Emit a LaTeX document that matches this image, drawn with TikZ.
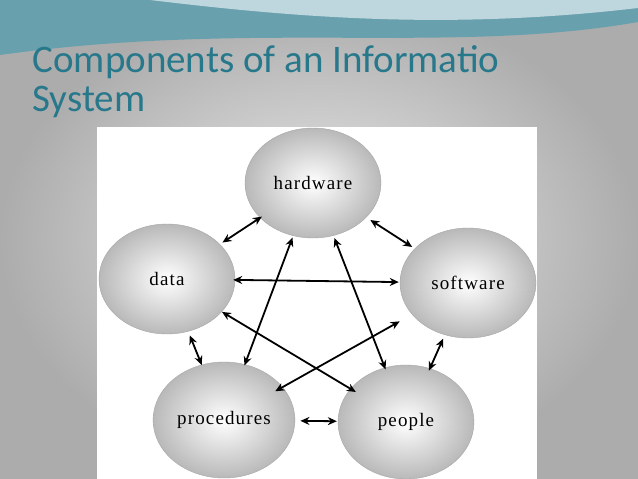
\documentclass[tikz,border=0pt]{standalone}
\usepackage{fontspec}
\setmainfont{Liberation Serif}
\newfontfamily\titlefont{Carlito}
\usetikzlibrary{shapes.geometric,calc,arrows.meta}
\definecolor{tealc}{RGB}{40,120,140}
\tikzset{
  comp/.style={ellipse, draw=gray!70, inner color=white, outer color=gray!55, minimum width=136pt, minimum height=110pt, font=\fontsize{19}{21}\selectfont\addfontfeatures{LetterSpace=6}},
  arr/.style={{Stealth[length=9pt,width=8pt]}-{Stealth[length=9pt,width=8pt]}, line width=1.8pt}
}
\begin{document}
\begin{tikzpicture}[x=1pt,y=-1pt]
\useasboundingbox (0,0) rectangle (638,479);
\shade[inner color=gray!15, outer color=gray!65] (0,0) rectangle (638,479);
\fill[tealc!70] (0,0) -- (638,0) -- (638,22) .. controls (450,55) and (250,20) .. (0,55) -- cycle;
\fill[tealc!30] (150,0) .. controls (300,18) and (450,30) .. (638,8) -- (638,0) -- cycle;
\node[anchor=west, text=tealc, font=\titlefont\fontsize{39}{41}\selectfont] (t1) at (29,62) {Components of an Informatio};
\node[anchor=west, text=tealc, font=\titlefont\fontsize{39}{41}\selectfont] (t2) at (29,102) {System};
\fill[white] (97,127) rectangle (537,479);
\node[comp] (hardware) at (313,183) {hardware};
\node[comp] (software) at (468,283) {software};
\node[comp] (data) at (167,279) {data};
\node[comp, minimum width=140pt, minimum height=116pt] (procedures) at (224,420) {procedures};
\node[comp, minimum height=114pt] (people) at (406,422) {people};
\draw[arr] ($(data)!0.38!(hardware)$) -- ($(data)!0.65!(hardware)$);
\draw[arr] ($(hardware)!0.37!(software)$) -- ($(hardware)!0.64!(software)$);
\draw[arr] ($(data)!0.22!(software)$) -- ($(data)!0.77!(software)$);
\draw[arr] ($(software)!0.40!(people)$) -- ($(software)!0.63!(people)$);
\draw[arr] ($(data)!0.40!(procedures)$) -- ($(data)!0.61!(procedures)$);
\draw[arr] ($(procedures)!0.42!(people)$) -- ($(procedures)!0.62!(people)$);
\draw[arr] ($(hardware)!0.23!(procedures)$) -- ($(hardware)!0.77!(procedures)$);
\draw[arr] ($(hardware)!0.23!(people)$) -- ($(hardware)!0.78!(people)$);
\draw[arr] ($(software)!0.28!(procedures)$) -- ($(software)!0.79!(procedures)$);
\draw[arr] ($(data)!0.23!(people)$) -- ($(data)!0.79!(people)$);
\end{tikzpicture}
\end{document}
